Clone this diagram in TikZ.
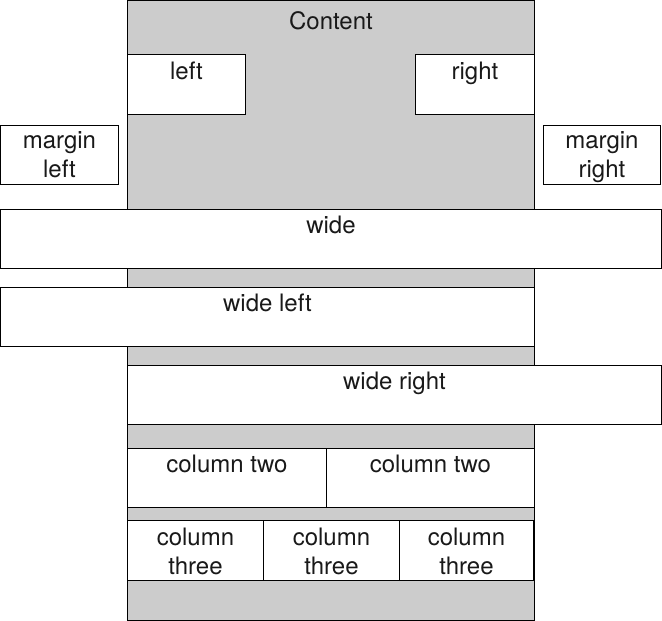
\documentclass[tikz,border=0pt]{standalone}
\usepackage{fontspec}
\setmainfont{TeX Gyre Heros}
\begin{document}
\begin{tikzpicture}[x=1pt,y=-1pt,
  box/.style={draw=black, line width=0.9pt, fill=white, rectangle, inner sep=0pt, anchor=north west},
  graybox/.style={box, fill=black!20},
  lbl/.style={font=\fontsize{24}{29}\selectfont, text=black!90, align=center, anchor=base, inner sep=0pt}]
\useasboundingbox (0,0) rectangle (662,621);
\node[graybox, minimum width=407pt, minimum height=620pt] (content) at (127,0) {};
\node[lbl] (contentl) at ([yshift=-29pt]content.north) {Content};
\node[box, minimum width=118pt, minimum height=60pt] (left) at (127,54) {};
\node[lbl] (leftl) at ([yshift=-25pt]left.north) {left};
\node[box, minimum width=119pt, minimum height=60pt] (right) at (415,54) {};
\node[lbl] (rightl) at ([yshift=-25pt]right.north) {right};
\node[box, minimum width=118pt, minimum height=59pt] (mleft) at (0,125) {};
\node[lbl] (mleftl) at ([yshift=-52pt]mleft.north) {margin\\left};
\node[box, minimum width=117pt, minimum height=59pt] (mright) at (543,125) {};
\node[lbl] (mrightl) at ([yshift=-52pt]mright.north) {margin\\right};
\node[box, minimum width=661pt, minimum height=59pt] (wide) at (0,209) {};
\node[lbl] (widel) at ([yshift=-24pt]wide.north) {wide};
\node[box, minimum width=534pt, minimum height=59pt] (wideleft) at (0,287) {};
\node[lbl] (wideleftl) at ([yshift=-24pt]wideleft.north) {wide left};
\node[box, minimum width=534pt, minimum height=59pt] (wideright) at (127,365) {};
\node[lbl] (widerightl) at ([yshift=-24pt]wideright.north) {wide right};
\node[box, minimum width=199pt, minimum height=59pt] (ctwoa) at (127,448) {};
\node[lbl] (ctwoal) at ([yshift=-24pt]ctwoa.north) {column two};
\node[box, minimum width=208pt, minimum height=59pt] (ctwob) at (326,448) {};
\node[lbl] (ctwobl) at ([yshift=-24pt]ctwob.north) {column two};
\node[box, minimum width=136pt, minimum height=60pt] (cthreea) at (127,520) {};
\node[lbl] (cthreeal) at ([yshift=-54pt]cthreea.north) {column\\three};
\node[box, minimum width=136pt, minimum height=60pt] (cthreeb) at (263,520) {};
\node[lbl] (cthreebl) at ([yshift=-54pt]cthreeb.north) {column\\three};
\node[box, minimum width=134pt, minimum height=60pt] (cthreec) at (399,520) {};
\node[lbl] (cthreecl) at ([yshift=-54pt]cthreec.north) {column\\three};
\end{tikzpicture}
\end{document}
